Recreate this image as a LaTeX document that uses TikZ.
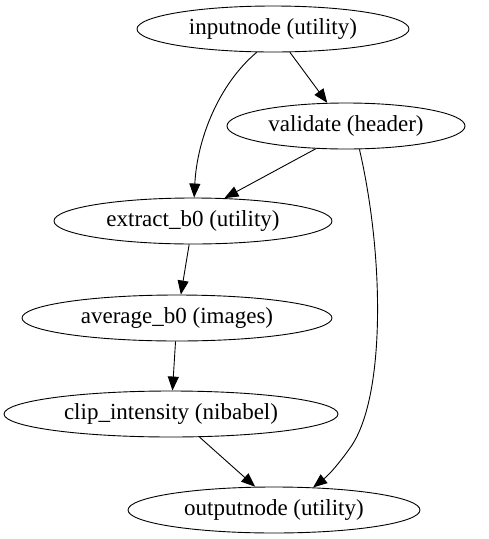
\documentclass[tikz,border=0pt]{standalone}
\usepackage{fontspec}
\setmainfont{Liberation Serif}
\usetikzlibrary{shapes.geometric,arrows.meta}
\begin{document}
\begin{tikzpicture}[x=1pt,y=-1pt,
  gnode/.style={draw,ellipse,inner sep=0pt,minimum height=46pt,font=\fontsize{23}{26}\selectfont,line width=0.9pt},
  edge/.style={draw,line width=0.9pt,-{Triangle[length=14pt,width=11pt]}}]
\useasboundingbox (0,0) rectangle (489,539);
\node[gnode,minimum width=272pt] (in) at (273,29) {inputnode (utility)};
\node[gnode,minimum width=238pt] (v) at (346,126) {validate (header)};
\node[gnode,minimum width=278pt] (ex) at (193,221) {extract\_b0 (utility)};
\node[gnode,minimum width=310pt] (av) at (177,318) {average\_b0 (images)};
\node[gnode,minimum width=334pt] (cl) at (171,414) {clip\_intensity (nibabel)};
\node[gnode,minimum width=292pt] (out) at (274,510) {outputnode (utility)};
\draw[edge] (in.235) .. controls (218,85) and (197,140) .. (ex);
\draw[edge] (in.-54) -- (v.129);
\draw[edge] (v.-143) -- (ex.36);
\draw[edge] (ex) -- (av);
\draw[edge] (av) -- (cl);
\draw[edge] (cl.-39) -- (out.129);
\draw[edge] (v.-60) .. controls (385,260) and (385,400) .. (350,448) .. controls (340,462) and (330,474) .. (out.30);
\end{tikzpicture}
\end{document}
